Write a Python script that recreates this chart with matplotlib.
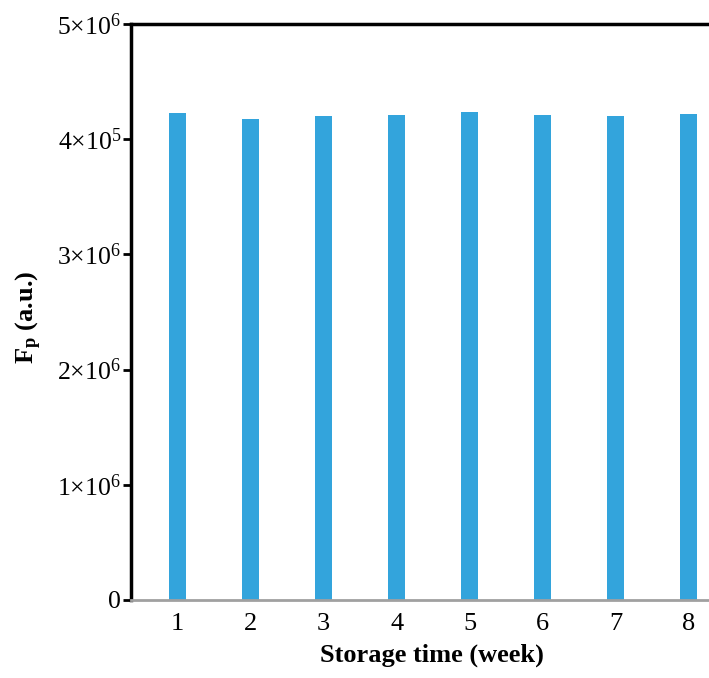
import matplotlib
matplotlib.use("Agg")
import matplotlib.pyplot as plt

# Data
weeks = [1, 2, 3, 4, 5, 6, 7, 8]
fp = [4.225e6, 4.175e6, 4.20e6, 4.21e6, 4.233e6, 4.21e6, 4.20e6, 4.22e6]
yticks = [0, 1e6, 2e6, 3e6, 4e6, 5e6]
ytick_labels = ["0", "1×10$^6$", "2×10$^6$", "3×10$^6$", "4×10$^5$", "5×10$^6$"]

plt.rcParams['font.family'] = ['Liberation Serif', 'DejaVu Serif']
plt.rcParams['mathtext.fontset'] = 'custom'
plt.rcParams['mathtext.rm'] = 'Liberation Serif'
plt.rcParams['mathtext.it'] = 'Liberation Serif:italic'
plt.rcParams['mathtext.bf'] = 'Liberation Serif:bold'

fig = plt.figure(figsize=(7.09, 6.78), dpi=100)
ax = fig.add_axes([131/709, 78/678, 1 - 131/709, 576/678])

ax.bar(weeks, fp, width=0.23, color="#33a4dc")

ax.set_xlim(0.36, 8.28)
ax.set_ylim(0, 5e6)
ax.set_yticks(yticks)
ax.set_yticklabels(ytick_labels)
ax.set_xticks(weeks)

ax.spines['right'].set_visible(False)
ax.spines['left'].set_linewidth(2.5)
ax.spines['top'].set_linewidth(2.5)
ax.spines['bottom'].set_color("#a0a0a0")
ax.spines['bottom'].set_linewidth(2)

ax.tick_params(axis='y', direction='out', length=6, width=2, labelsize=18.5, pad=1)
ax.tick_params(axis='x', length=0, labelsize=19, pad=9)

ax.set_xlabel("Storage time (week)", fontsize=19, fontweight='bold', labelpad=5)
ax.xaxis.set_label_coords(0.52, -0.075)
ax.set_ylabel(r"$\mathbf{F_p}$ (a.u.)", fontsize=19, fontweight='bold')
ax.yaxis.set_label_coords(-0.15, 0.49)

fig.savefig("out.png", dpi=100)
